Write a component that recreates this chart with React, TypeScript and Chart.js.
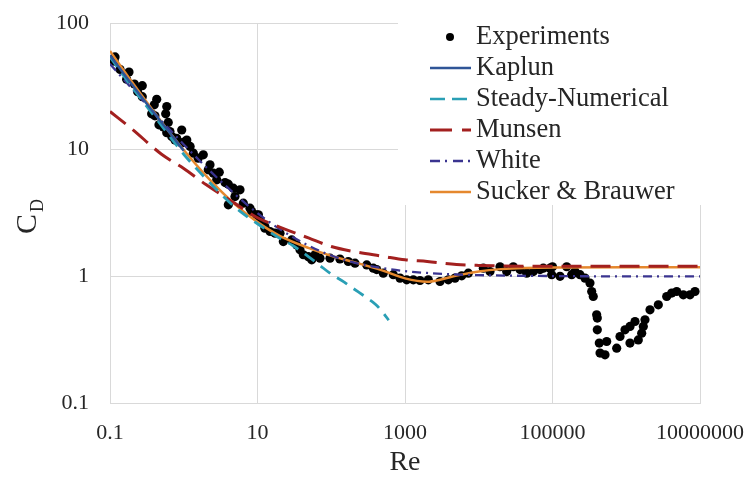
import React, { useEffect, useRef } from 'react';
import { Chart, registerables } from 'chart.js';

Chart.register(...registerables);

const FONT = '"Liberation Serif", "Times New Roman", serif';

// Experiments
const expRe = [
  0.117, 0.114, 0.137, 0.181, 0.168, 0.214, 0.274, 0.237, 0.274, 0.43, 0.398, 0.588, 0.569, 0.367, 0.407,
  0.616, 0.461, 0.529, 0.938, 0.588, 0.687, 0.76, 1.1, 0.938, 1.22, 0.65, 0.802, 1.04, 1.35, 1.84, 1.57,
  2.27, 2.15, 2.52, 3.03, 2.8, 3.63, 4.02, 4.7, 5.79, 4.95, 4.02, 6.42, 7.91, 10.3, 10.8, 12.6, 8.34, 9.75,
  12.6, 14.8, 17.3, 20.2, 22.4, 29.1, 34.0, 37.7, 41.8, 48.9, 60.3, 70.4, 54.3, 96.2, 131, 170, 210, 303,
  372, 413, 508, 694, 855, 1054, 1296, 1596, 2070, 2984, 3865, 4764, 5875, 7215, 11530, 14210, 19410,
  23930, 29410, 36240, 44670, 54950, 67760, 92470, 97500, 75000, 100000, 126500, 155800, 182000, 201800,
  236000, 276000, 322000, 340000, 357000, 397000, 405000, 405000, 431000, 441000, 515000, 543000, 742000,
  823000, 962000, 1124000, 1315000, 1124000, 1456000, 1620000, 1703000, 1795000, 2099000, 2721000,
  3537000, 4132000, 4831000, 5943000, 7313000, 8551000,
];
const expCd = [
  54, 50, 43, 41, 36, 33, 32, 28.7, 26.2, 25, 22.6, 21.9, 19.2, 19.2, 18.5,
  16.4, 15.7, 15.1, 14.3, 13.6, 12.7, 11.9, 11.9, 11.3, 10.6, 13.9, 12.3, 11.6, 9.38, 9.1, 8.57,
  7.59, 6.93, 6.52, 6.64, 5.78, 5.5, 5.34, 4.97, 4.82, 4.26, 3.67, 3.78, 3.45, 3.06, 2.79, 2.47, 3.25, 3.06,
  2.4, 2.26, 2.19, 2.19, 1.88, 1.94, 1.77, 1.62, 1.48, 1.43, 1.48, 1.39, 1.35, 1.39, 1.37, 1.31, 1.27, 1.23,
  1.16, 1.13, 1.06, 1.03, 0.968, 0.938, 0.938, 0.927, 0.938, 0.91, 0.938, 0.968, 1.01, 1.06, 1.16, 1.09, 1.19,
  1.09, 1.19, 1.13, 1.06, 1.09, 1.13, 1.16, 1.03, 1.16, 1.19, 1.0, 1.19, 1.03, 1.09,
  1.03, 0.968, 0.884, 0.759, 0.693, 0.497, 0.468, 0.378, 0.297, 0.248, 0.24, 0.306, 0.271,
  0.335, 0.378, 0.402, 0.44, 0.297, 0.315, 0.356, 0.402, 0.454, 0.544, 0.596,
  0.693, 0.737, 0.759, 0.715, 0.715, 0.759,
];

// Kaplun
const kaplunRe = [0.1, 0.15, 0.2, 0.3, 0.5, 0.7, 1];
const kaplunCd = [55.6, 40.5, 32.5, 23.9, 16.4, 12.8, 9.8];

// Steady-Numerical
const steadyRe = [0.1, 0.2, 0.5, 1, 2, 5, 10, 20, 30, 50, 70, 100, 150, 200, 300, 400, 500, 600];
const steadyCd = [54, 31, 15.5, 9.2, 5.9, 3.5, 2.6, 2.0, 1.75, 1.42, 1.22, 1.04, 0.9, 0.8, 0.68, 0.6, 0.52, 0.45];

// Munsen
const munsenRe = [0.1, 0.2, 0.5, 1, 2, 5, 10, 20, 50, 100, 200, 500, 1000, 2000, 5000, 1e4, 1e5, 1e6, 1e7];
const munsenCd = [20, 14.5, 9.2, 7.1, 5.3, 3.75, 2.9, 2.45, 2.0, 1.72, 1.57, 1.44, 1.35, 1.31, 1.24, 1.22, 1.2, 1.2, 1.2];

// White
const whiteRe = [0.1, 0.2, 0.5, 1, 2, 5, 10, 20, 50, 100, 200, 500, 1000, 2000, 5000, 1e4, 1e5, 1e6, 1e7];
const whiteCd = [47.4, 30.2, 16.9, 11, 7.3, 4.42, 3.15, 2.36, 1.74, 1.46, 1.29, 1.16, 1.1, 1.063, 1.034, 1.022, 1.005, 1.0, 1.0];

// Sucker & Brauwer
const suckerRe = [0.1, 0.2, 0.5, 1, 2, 5, 10, 20, 50, 100, 200, 500, 1000, 2000, 3000, 5000, 1e4, 2e4, 1e5, 1e6, 1e7];
const suckerCd = [60.2, 34.0, 16.55, 9.94, 6.24, 3.68, 2.68, 2.09, 1.67, 1.45, 1.3, 1.11, 0.963, 0.906, 0.94, 1.013, 1.094, 1.14, 1.175, 1.18, 1.18];

const xTicks = [0.1, 10, 1000, 100000, 10000000];
const yTicks = [0.1, 1, 10, 100];

const toXY = (xs: number[], ys: number[]) => xs.map((x, i) => ({ x, y: ys[i] }));

const COLORS = {
  kaplun: '#2F5597',
  steady: '#2A9FB5',
  munsen: '#A3201F',
  white: '#3A3490',
  sucker: '#E5882E',
};

const legendItems = [
  { label: 'Experiments', kind: 'dot', color: '#000000', dash: [] as number[], width: 0 },
  { label: 'Kaplun', kind: 'line', color: COLORS.kaplun, dash: [] as number[], width: 2.5 },
  { label: 'Steady-Numerical', kind: 'line', color: COLORS.steady, dash: [15, 7], width: 2.5 },
  { label: 'Munsen', kind: 'line', color: COLORS.munsen, dash: [22, 10], width: 3 },
  { label: 'White', kind: 'line', color: COLORS.white, dash: [10, 5, 2, 6], width: 2.5 },
  { label: 'Sucker & Brauwer', kind: 'line', color: COLORS.sucker, dash: [] as number[], width: 2.5 },
];

const overlayPlugin = {
  id: 'overlay',
  afterDraw(chart: any) {
    const ctx = chart.ctx;
    ctx.save();
    // legend background
    ctx.fillStyle = '#ffffff';
    ctx.fillRect(398, 0, 314, 205);
    const y0 = 37;
    const step = 31;
    legendItems.forEach((it, i) => {
      const y = y0 + i * step;
      if (it.kind === 'dot') {
        ctx.beginPath();
        ctx.fillStyle = it.color;
        ctx.arc(450, y, 4, 0, Math.PI * 2);
        ctx.fill();
      } else {
        ctx.beginPath();
        ctx.strokeStyle = it.color;
        ctx.lineWidth = it.width;
        ctx.setLineDash(it.dash);
        ctx.moveTo(430, y);
        ctx.lineTo(471, y);
        ctx.stroke();
        ctx.setLineDash([]);
      }
      ctx.fillStyle = '#262626';
      ctx.font = `26.5px ${FONT}`;
      ctx.textAlign = 'left';
      ctx.textBaseline = 'middle';
      ctx.fillText(it.label, 476, y);
    });
    // y-axis title C_D
    ctx.translate(36, 234);
    ctx.rotate(-Math.PI / 2);
    ctx.fillStyle = '#262626';
    ctx.textAlign = 'left';
    ctx.textBaseline = 'alphabetic';
    ctx.font = `30px ${FONT}`;
    ctx.fillText('C', 0, 0);
    const w = ctx.measureText('C').width;
    ctx.font = `18px ${FONT}`;
    ctx.fillText('D', w + 2, 7);
    ctx.restore();
  },
};

export default function App() {
  const ref = useRef<HTMLCanvasElement | null>(null);

  useEffect(() => {
    if (!ref.current) return;
    const lineDs = (label: string, xs: number[], ys: number[], color: string, dash: number[], width: number, order: number) => ({
      label,
      data: toXY(xs, ys),
      showLine: true,
      borderColor: color,
      backgroundColor: color,
      borderWidth: width,
      borderDash: dash,
      pointRadius: 0,
      cubicInterpolationMode: 'monotone',
      order,
    });
    const chart = new Chart(ref.current, {
      type: 'scatter',
      data: {
        datasets: [
          {
            label: 'Experiments',
            data: toXY(expRe, expCd),
            showLine: false,
            pointRadius: 4.6,
            pointBackgroundColor: '#000000',
            pointBorderWidth: 0,
            backgroundColor: '#000000',
            borderColor: '#000000',
            order: 10,
          },
          lineDs('Kaplun', kaplunRe, kaplunCd, COLORS.kaplun, [], 2.5, 1),
          lineDs('Steady-Numerical', steadyRe, steadyCd, COLORS.steady, [12, 8], 2.8, 2),
          lineDs('Munsen', munsenRe, munsenCd, COLORS.munsen, [20, 9], 3, 3),
          lineDs('White', whiteRe, whiteCd, COLORS.white, [9, 5, 2, 5], 2.3, 4),
          lineDs('Sucker & Brauwer', suckerRe, suckerCd, COLORS.sucker, [], 2.5, 5),
        ] as any,
      },
      options: {
        responsive: false,
        animation: false,
        layout: { autoPadding: false, padding: { top: 23, right: 51, left: 0, bottom: 0 } },
        plugins: { legend: { display: false }, tooltip: { enabled: false } },
        scales: {
          x: {
            type: 'logarithmic',
            min: 0.1,
            max: 1e7,
            afterBuildTicks: (axis: any) => {
              axis.ticks = xTicks.map((v) => ({ value: v }));
            },
            afterFit: (s: any) => {
              s.height = 74;
              s.paddingLeft = 0;
              s.paddingRight = 0;
            },
            ticks: {
              font: { family: FONT, size: 22 },
              color: '#262626',
              padding: 17,
              maxRotation: 0,
              autoSkip: false,
              callback: (v: any) => String(v),
            },
            grid: { color: '#d9d9d9', lineWidth: 1, drawTicks: false },
            border: { color: '#d9d9d9' },
            title: {
              display: true,
              text: 'Re',
              font: { family: FONT, size: 28, lineHeight: 1 },
              color: '#262626',
              padding: 0,
            },
          },
          y: {
            type: 'logarithmic',
            min: 0.1,
            max: 100,
            afterBuildTicks: (axis: any) => {
              axis.ticks = yTicks.map((v) => ({ value: v }));
            },
            afterFit: (s: any) => {
              s.width = 110;
              s.paddingTop = 0;
              s.paddingBottom = 0;
            },
            ticks: {
              font: { family: FONT, size: 22 },
              color: '#262626',
              padding: 21,
              autoSkip: false,
              callback: (v: any) => String(v),
            },
            grid: { color: '#d9d9d9', lineWidth: 1, drawTicks: false },
            border: { color: '#d9d9d9' },
          },
        },
      } as any,
      plugins: [overlayPlugin],
    });
    return () => chart.destroy();
  }, []);

  return (
    <div style={{ position: 'absolute', left: 0, top: 0, width: 751, height: 477, background: '#fff' }}>
      <canvas ref={ref} width={751} height={477} style={{ display: 'block' }} />
    </div>
  );
}
